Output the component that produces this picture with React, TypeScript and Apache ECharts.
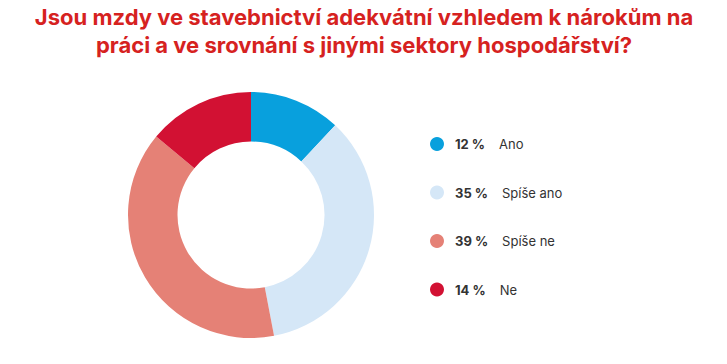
import React, { useEffect, useRef } from "react";
import * as echarts from "echarts";

const titleLines = [
  "Jsou mzdy ve stavebnictví adekvátní vzhledem k nárokům na",
  "práci a ve srovnání s jinými sektory hospodářství?",
];
const categories = ["Ano", "Spíše ano", "Spíše ne", "Ne"];
const values = [12, 35, 39, 14];
const colors = ["#08a0dd", "#d5e7f7", "#e58176", "#d21133"];

export default function App() {
  const ref = useRef<HTMLDivElement>(null);
  useEffect(() => {
    if (!ref.current) return;
    const chart = echarts.init(ref.current, undefined, { renderer: "svg" });
    const valueMap: Record<string, number> = {};
    categories.forEach((c, i) => (valueMap[c] = values[i]));
    chart.setOption({
      animation: false,
      backgroundColor: "#ffffff",
      graphic: titleLines.map((line, i) => ({
        type: "text",
        x: 364,
        y: 17 + i * 28,
        style: {
          text: line,
          fontFamily: "Inter",
          fontWeight: 700,
          fontSize: 22,
          fill: "#d6221f",
          align: "center",
          verticalAlign: "middle",
        },
      })),
      legend: {
        orient: "vertical",
        left: 425,
        top: 132,
        itemWidth: 14,
        itemHeight: 14,
        itemGap: 34.5,
        icon: "circle",
        selectedMode: false,
        data: categories,
        formatter: (name: string) => `{p|${valueMap[name]} %}{n|${name}}`,
        textStyle: {
          fontFamily: "Inter",
          fontSize: 13,
          color: "#333333",
          rich: {
            p: {
              fontFamily: "Inter",
              fontWeight: 700,
              fontSize: 13,
              color: "#333333",
              padding: [0, 14, 0, 6],
            },
            n: {
              fontFamily: "Inter",
              fontSize: 13,
              color: "#333333",
            },
          },
        },
      },
      series: [
        {
          type: "pie",
          center: [251, 215],
          radius: [73.5, 123],
          startAngle: 90,
          clockwise: true,
          label: { show: false },
          labelLine: { show: false },
          emphasis: { disabled: true },
          data: categories.map((c, i) => ({
            name: c,
            value: values[i],
            itemStyle: { color: colors[i] },
          })),
        },
      ],
    });
    return () => chart.dispose();
  }, []);
  return <div ref={ref} style={{ width: 727, height: 364, margin: -8 }} />;
}
